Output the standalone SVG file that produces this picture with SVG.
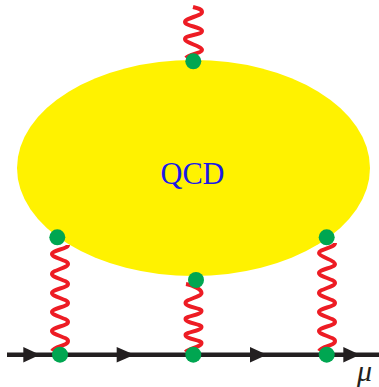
<svg xmlns="http://www.w3.org/2000/svg" width="379" height="387" viewBox="0 0 379 387">
<style>
.blob{fill:#fff200}
.photon{fill:none;stroke:#ed1c24;stroke-width:4;stroke-linecap:butt}
.line{fill:none;stroke:#231f20;stroke-width:4.4}
.head{fill:#231f20}
.dot{fill:#00a651}
text{font-family:"Liberation Serif","Times New Roman",serif}
</style>
<g id="qcd-blob">
<ellipse class="blob" cx="193.5" cy="168" rx="176.5" ry="108"/>
<text x="160.5" y="184" font-size="30.5" fill="#1a1ae6" textLength="64" lengthAdjust="spacingAndGlyphs">QCD</text>
</g>
<g id="connectors">
<path class="line" d="M7 354.7H379"/>
<path class="head" d="M23.3 347L40 354.7L23.3 362.4Z"/>
<path class="head" d="M116.7 347L134.5 354.7L116.7 362.4Z"/>
<path class="head" d="M250 347L267 354.7L250 362.4Z"/>
<path class="head" d="M343.3 347L360 354.7L343.3 362.4Z"/>
<path class="photon" d="M193 7C197 8 202 9 202 12C202 16 185 18 185 22C185 26 202 27 202 31C202 35 185 35 185 39C185 43 202 46 202 50C202 53 189 54 186 58"/>
<path class="photon" d="M68 245C68 249 52 250 52 254C52 258 68 260 68 264C68 268 52 270 52 274C52 278 68 280 68 284C68 288 52 289 52 293C52 297 68 299 68 303C68 307 52 308 52 312C52 316 68 318 68 322C68 326 52 327 52 331C52 335 68 337 68 341C68 346 55 346 52 351"/>
<path class="photon" d="M186 284C192 285 201.500 289 201.500 293C201.500 297 185.500 299 185.500 303C185.500 307 201.500 308 201.500 311C201.500 315 185.500 316 185.500 319C185.500 323 201.500 324 201.500 327C201.500 331 185.500 332 185.500 335C185.500 339 201.500 340 201.500 343C201.500 347 189 348 185.500 352"/>
<path class="photon" d="M335 243C335 248 319 249 319 253C319 257 335 260 335 264C335 268 319 269 319 273C319 277 335 279 335 283C335 287 319 289 319 293C319 297 335 299 335 303C335 307 319 308 319 312C319 316 335 318 335 322C335 326 319 327 319 331C319 335 335 337 335 341C335 346 322 346 319 351"/>
</g>
<g id="vertex-top"><circle class="dot" cx="193.3" cy="61.3" r="8"/></g>
<g id="vertex-blob-left"><circle class="dot" cx="57.3" cy="237.3" r="8"/></g>
<g id="vertex-blob-centre"><circle class="dot" cx="196" cy="280" r="8"/></g>
<g id="vertex-blob-right"><circle class="dot" cx="326.7" cy="237.3" r="8"/></g>
<g id="vertex-line-left"><circle class="dot" cx="60" cy="354.7" r="8"/></g>
<g id="vertex-line-centre"><circle class="dot" cx="193.3" cy="354.7" r="8"/></g>
<g id="vertex-line-right"><circle class="dot" cx="326.7" cy="354.7" r="8"/></g>
<g id="label-mu"><text x="357" y="381" font-size="30" font-style="italic" fill="#231f20">μ</text></g>
</svg>
